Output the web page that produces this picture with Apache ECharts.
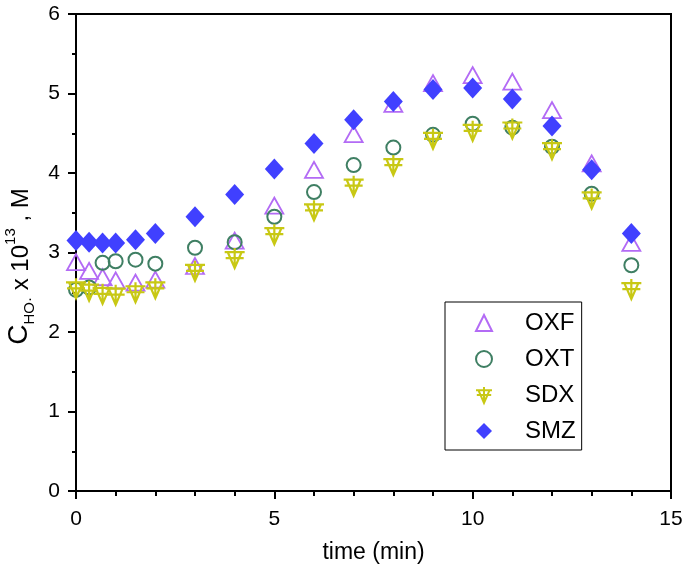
<!DOCTYPE html>
<html>
<head>
<meta charset="utf-8">
<script src="https://cdn.jsdelivr.net/npm/echarts@6/dist/echarts.min.js"></script>
<style>
html,body{margin:0;padding:0;background:#fff;}
#chart{width:685px;height:581px;}
</style>
</head>
<body>
<div id="chart"></div>
<script>
var times = [0, 0.33, 0.67, 1, 1.5, 2, 3, 4, 5, 6, 7, 8, 9, 10, 11, 12, 13, 14];
var oxf = [2.88, 2.77, 2.69, 2.65, 2.62, 2.66, 2.83, 3.15, 3.59, 4.04, 4.49, 4.87, 5.13, 5.23, 5.15, 4.79, 4.12, 3.12];
var oxt = [2.53, 2.56, 2.87, 2.89, 2.91, 2.86, 3.06, 3.13, 3.45, 3.76, 4.10, 4.32, 4.48, 4.62, 4.57, 4.33, 3.74, 2.84];
var sdx = [2.55, 2.52, 2.48, 2.47, 2.50, 2.55, 2.77, 2.93, 3.23, 3.53, 3.84, 4.10, 4.43, 4.53, 4.56, 4.30, 3.68, 2.54];
var smz = [3.15, 3.13, 3.12, 3.12, 3.16, 3.24, 3.45, 3.73, 4.05, 4.37, 4.67, 4.90, 5.05, 5.07, 4.93, 4.59, 4.04, 3.24];
var seriesNames = ['OXF', 'OXT', 'SDX', 'SMZ'];

function pairs(ys) { return times.map(function (t, i) { return [t, ys[i]]; }); }

var FONT = 'Liberation Sans, Arial, sans-serif';
var sdxPath = 'path://M0,4 L20,4 M3,4 L10,20 L17,4 M10,0 L10,20 M1,10 L19,10';

var chart = echarts.init(document.getElementById('chart'), null, {renderer: 'canvas'});
chart.setOption({
  animation: false,
  backgroundColor: '#fff',
  grid: {left: 76, right: 14, top: 14, bottom: 90, show: true, borderColor: '#000', borderWidth: 2,
         containLabel: false, outerBoundsMode: 'none'},
  legend: {
    orient: 'vertical', left: 445, top: 302,
    padding: [9, 6, 7, 30],
    itemGap: 12, itemWidth: 16, itemHeight: 16,
    borderColor: '#000', borderWidth: 1, backgroundColor: '#fff',
    textStyle: {fontSize: 24, fontFamily: FONT, color: '#000', padding: [0, 0, 0, 28]},
    data: seriesNames
  },
  xAxis: {
    type: 'value', min: 0, max: 15, interval: 5,
    name: 'time (min)', nameLocation: 'middle', nameGap: 50,
    nameTextStyle: {fontSize: 23, fontFamily: FONT, color: '#000'},
    axisLine: {lineStyle: {color: '#000', width: 2}},
    axisTick: {show: true, length: 8, lineStyle: {color: '#000', width: 2}},
    minorTick: {show: true, splitNumber: 5, length: 5, lineStyle: {color: '#000', width: 2}},
    axisLabel: {fontSize: 21, fontFamily: FONT, color: '#000', margin: 18},
    splitLine: {show: false}
  },
  yAxis: {
    type: 'value', min: 0, max: 6, interval: 1,
    name: '{big|C}{sub|HO·}{n| x 10}{sup|13}{n| , M}',
    nameLocation: 'middle', nameRotate: 90, nameGap: 36,
    nameTextStyle: {
      fontFamily: FONT, color: '#000', padding: [0, 28, 0, 0],
      rich: {
        big: {fontSize: 28, fontFamily: FONT, color: '#000', lineHeight: 30, verticalAlign: 'bottom'},
        n: {fontSize: 24, fontFamily: FONT, color: '#000', lineHeight: 30, verticalAlign: 'bottom'},
        sub: {fontSize: 15, fontFamily: FONT, color: '#000', lineHeight: 15, verticalAlign: 'bottom', padding: [0, 0, -4, 0]},
        sup: {fontSize: 15, fontFamily: FONT, color: '#000', lineHeight: 15, verticalAlign: 'top'}
      }
    },
    axisLine: {show: true, lineStyle: {color: '#000', width: 2}},
    axisTick: {show: true, length: 8, lineStyle: {color: '#000', width: 2}},
    minorTick: {show: true, splitNumber: 2, length: 4, lineStyle: {color: '#000', width: 2}},
    axisLabel: {fontSize: 21, fontFamily: FONT, color: '#000', margin: 16},
    splitLine: {show: false}
  },
  series: [
    {name: 'OXF', type: 'scatter', data: pairs(oxf), symbol: 'triangle', symbolSize: [18, 16],
     itemStyle: {color: 'rgba(0,0,0,0)', borderColor: '#B36BF5', borderWidth: 1.8, opacity: 1}},
    {name: 'OXT', type: 'scatter', data: pairs(oxt), symbol: 'circle', symbolSize: 14,
     itemStyle: {color: 'rgba(0,0,0,0)', borderColor: '#3F7F63', borderWidth: 2, opacity: 1}},
    {name: 'SDX', type: 'scatter', data: pairs(sdx), symbol: sdxPath, symbolSize: 20,
     itemStyle: {color: 'rgba(0,0,0,0)', borderColor: '#C8C814', borderWidth: 2.2, opacity: 1}},
    {name: 'SMZ', type: 'scatter', data: pairs(smz), symbol: 'diamond', symbolSize: [19, 21],
     itemStyle: {color: '#4040FF', opacity: 1}}
  ]
});
</script>
</body>
</html>
